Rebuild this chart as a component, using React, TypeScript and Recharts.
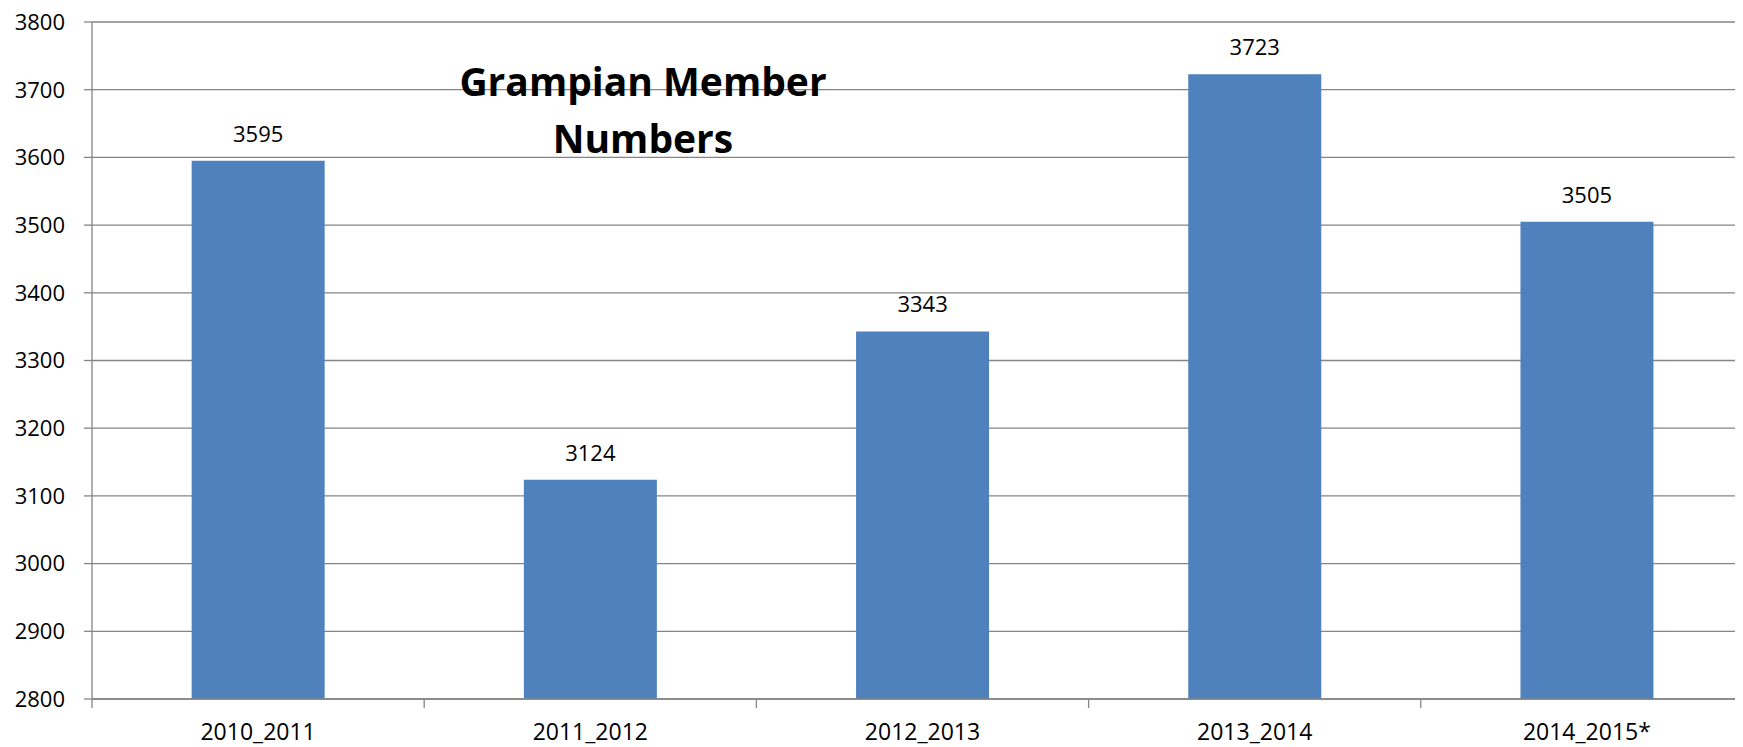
import React from 'react';
import {
  BarChart,
  Bar,
  XAxis,
  YAxis,
  CartesianGrid,
  LabelList,
} from 'recharts';

const seasons = ['2010_2011', '2011_2012', '2012_2013', '2013_2014', '2014_2015*'];
const members = [3595, 3124, 3343, 3723, 3505];
const yTicks = [2800, 2900, 3000, 3100, 3200, 3300, 3400, 3500, 3600, 3700, 3800];

const data = seasons.map((season, i) => ({ season, members: members[i] }));

const CHART_W = 1753;
const Y_AXIS_W = 92;
const BAND = (CHART_W - Y_AXIS_W) / seasons.length;
const GREY = '#858585';
const FONT = '"Open Sans", sans-serif';

function SeasonTick(props: any) {
  const { x, y, payload } = props;
  const left = x - BAND / 2;
  return (
    <g>
      <line x1={left} y1={y} x2={left} y2={y + 9} stroke={GREY} strokeWidth={1.3} />
      <text
        x={x}
        y={y + 41}
        textAnchor='middle'
        fill='#000'
        fontSize={23}
        fontFamily={FONT}
      >
        {payload.value}
      </text>
    </g>
  );
}

export default function App() {
  return (
    <div
      style={{
        position: 'relative',
        margin: '-8px 0 0 -8px',
        width: 1743,
        height: 747,
        overflow: 'hidden',
        background: '#fff',
      }}
    >
      <BarChart
        width={CHART_W}
        height={747}
        data={data}
        margin={{ top: 22, right: 0, bottom: 0, left: 0 }}
        barCategoryGap='30%'
      >
        <CartesianGrid vertical={false} stroke={GREY} strokeWidth={1.3} />
        <XAxis
          dataKey='season'
          height={48}
          tickLine={false}
          tickSize={0}
          tickMargin={0}
          axisLine={{ stroke: GREY, strokeWidth: 1.3 }}
          tick={<SeasonTick />}
          interval={0}
        />
        <YAxis
          width={Y_AXIS_W}
          domain={[2800, 3800]}
          ticks={yTicks}
          interval={0}
          tickSize={8}
          tickMargin={19}
          axisLine={{ stroke: GREY, strokeWidth: 1.3 }}
          tickLine={{ stroke: GREY, strokeWidth: 1.3 }}
          tick={{ fill: '#000', fontSize: 22, fontFamily: FONT }}
          allowDataOverflow
        />
        <Bar dataKey='members' fill='#4F81BD' isAnimationActive={false}>
          <LabelList
            dataKey='members'
            position='top'
            offset={19}
            fill='#000'
            fontSize={22}
            fontFamily={FONT}
          />
        </Bar>
      </BarChart>
      <div
        style={{
          position: 'absolute',
          left: 443,
          top: 52,
          width: 400,
          textAlign: 'center',
          fontFamily: FONT,
          fontWeight: 700,
          fontSize: 39,
          lineHeight: '57px',
          color: '#000',
        }}
      >
        Grampian Member
        <br />
        Numbers
      </div>
    </div>
  );
}
